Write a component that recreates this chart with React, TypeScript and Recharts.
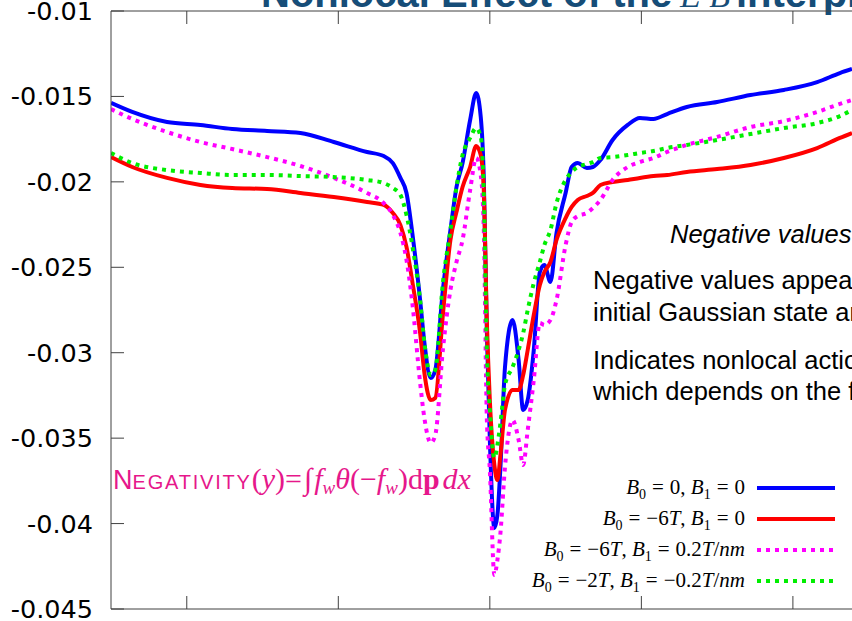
import { Customized, Legend, Line, LineChart, ReferenceLine, XAxis, YAxis } from 'recharts';

// sample positions along the horizontal axis
const X_POS = [
	-5.0, -3.6, -1.3, 0.9, 3.0, 5.3, 7.5, 9.7, 11.9, 13.0,
	13.6, 14.1, 14.5, 14.9, 15.4, 15.7, 16.1, 16.4, 16.9, 17.4,
	17.8, 18.2, 18.7, 19.1, 19.4, 19.6, 19.8, 20.0, 20.3, 20.5,
	20.7, 21.0, 21.5, 21.9, 22.2, 22.5, 22.9, 23.3, 23.6, 24.0,
	24.4, 25.0, 25.4, 25.8, 26.4, 26.8, 27.3, 28.1, 29.1, 29.9,
	30.8, 31.7, 33.0, 35.0, 37.2, 39.4, 41.6, 43.1, 43.9,
];

// B0 = 0, B1 = 0
const NEG_B0 = [
	-0.01538, -0.01591, -0.0165, -0.01667, -0.01691, -0.01702, -0.01714, -0.01767, -0.01825, -0.01849,
	-0.0189, -0.01977, -0.02065, -0.02311, -0.02692, -0.02955, -0.03148, -0.03101, -0.02633, -0.02282,
	-0.0203, -0.0189, -0.01638, -0.0148, -0.0162, -0.01972, -0.02867, -0.03511, -0.04026, -0.0395,
	-0.03669, -0.03084, -0.02809, -0.03043, -0.03335, -0.03277, -0.02984, -0.02528, -0.02487, -0.02586,
	-0.02299, -0.02065, -0.01913, -0.0189, -0.01919, -0.01913, -0.01872, -0.01755, -0.01667, -0.01626,
	-0.01632, -0.01603, -0.01562, -0.01533, -0.01492, -0.01462, -0.01416, -0.01363, -0.01339,
];

// B0 = -6T, B1 = 0
const NEG_B6 = [
	-0.01855, -0.01913, -0.01977, -0.02018, -0.02036, -0.02042, -0.02065, -0.02089, -0.02118, -0.02135,
	-0.02182, -0.02253, -0.02381, -0.02592, -0.02885, -0.03131, -0.03277, -0.03265, -0.02779, -0.0234,
	-0.02176, -0.0203, -0.01913, -0.0179, -0.01843, -0.02048, -0.02809, -0.03277, -0.03657, -0.03745,
	-0.03599, -0.03335, -0.03218, -0.03218, -0.03131, -0.02984, -0.02779, -0.02604, -0.02528, -0.02469,
	-0.0234, -0.02212, -0.02147, -0.02106, -0.02083, -0.02065, -0.02018, -0.02001, -0.01989, -0.01977,
	-0.01966, -0.0196, -0.01942, -0.01925, -0.01901, -0.0186, -0.01802, -0.01743, -0.01714,
];

// B0 = -6T, B1 = 0.2T/nm
const NEG_B6_G = [
	-0.01574, -0.01632, -0.01708, -0.01767, -0.01808, -0.01855, -0.01907, -0.01977, -0.02065, -0.02124,
	-0.02194, -0.02299, -0.02457, -0.02721, -0.03177, -0.03394, -0.03528, -0.03482, -0.02984, -0.02633,
	-0.02469, -0.0234, -0.02048, -0.0186, -0.0196, -0.02282, -0.03376, -0.03687, -0.04301, -0.04213,
	-0.04055, -0.03669, -0.03394, -0.03511, -0.03657, -0.03452, -0.0316, -0.02826, -0.02838, -0.02809,
	-0.02692, -0.0237, -0.02235, -0.022, -0.02182, -0.02153, -0.02106, -0.01989, -0.01913, -0.01884,
	-0.0186, -0.01825, -0.01784, -0.01737, -0.01679, -0.01644, -0.01591, -0.01544, -0.01521,
];

// B0 = -2T, B1 = -0.2T/nm
const NEG_B2_G = [
	-0.01831, -0.0189, -0.01931, -0.01948, -0.0196, -0.0196, -0.01966, -0.01972, -0.01989, -0.02007,
	-0.02036, -0.02077, -0.02194, -0.02381, -0.02692, -0.02955, -0.03131, -0.03101, -0.02592, -0.02282,
	-0.0203, -0.01843, -0.01743, -0.01685, -0.01737, -0.02065, -0.02984, -0.03335, -0.03616, -0.0354,
	-0.03411, -0.03189, -0.03084, -0.02984, -0.02885, -0.0275, -0.02592, -0.02469, -0.0237, -0.02282,
	-0.02124, -0.01989, -0.01942, -0.01913, -0.01896, -0.01884, -0.0186, -0.01855, -0.01843, -0.01831,
	-0.01819, -0.01802, -0.01784, -0.01755, -0.0172, -0.01685, -0.01656, -0.01615, -0.01579,
];

const Y_TICKS = [-0.045, -0.04, -0.035, -0.03, -0.025, -0.02, -0.015, -0.01];
const X_TICKS = [0, 10, 20, 30, 40];

const B0_LABELS = ['0', '−6T', '−6T', '−2T'];
const B1_LABELS = ['0', '0', '0.2T/nm', '−0.2T/nm'];

const SERIES = [
	{ key: 'b0', color: '#0000ff', dash: undefined },
	{ key: 'b6', color: '#ff0000', dash: undefined },
	{ key: 'b6g', color: '#ff00ff', dash: '4 5' },
	{ key: 'b2g', color: '#00ee00', dash: '4 5' },
];

const data = X_POS.map((x, i) => ({
	x,
	b0: NEG_B0[i],
	b6: NEG_B6[i],
	b6g: NEG_B6_G[i],
	b2g: NEG_B2_G[i],
}));

const PLOT_LEFT = 111;
const PLOT_TOP = 11;
const PLOT_BOTTOM = 609;
const AXIS = '#404040';
const PINK = '#e6178b';
const TITLE = '#164d78';

// italic letters, upright numbers, like the math in the legend
const mathText = (s: string) =>
	s.split(/([A-Za-z]+)/).map((part, i) =>
		/[A-Za-z]/.test(part) ? <i key={i}>{part}</i> : <span key={i}>{part}</span>,
	);

const subStyle: React.CSSProperties = { fontSize: 14, lineHeight: 0, fontStyle: 'normal' };
const eq = <span style={{ margin: '0 6px' }}>=</span>;

const XTick = (p: any) => (
	<g>
		<line x1={p.x} x2={p.x} y1={PLOT_BOTTOM} y2={PLOT_BOTTOM - 13} stroke={AXIS} />
		<line x1={p.x} x2={p.x} y1={PLOT_TOP} y2={PLOT_TOP + 13} stroke={AXIS} />
	</g>
);

const YTick = (p: any) => (
	<g>
		<text
			x={93}
			y={p.y}
			textAnchor="end"
			dominantBaseline="central"
			fontFamily="DejaVu Sans"
			fontSize={25.5}
			fill="#000"
		>
			{String(p.payload.value)}
		</text>
		<line x1={PLOT_LEFT} x2={PLOT_LEFT + 13} y1={p.y} y2={p.y} stroke={AXIS} />
	</g>
);

const renderLegend = () => (
	<div style={{ fontFamily: '"Liberation Serif", serif', fontSize: 21, color: '#000' }}>
		{SERIES.map((s, i) => (
			<div key={s.key} style={{ display: 'flex', alignItems: 'center', height: 31 }}>
				<div style={{ width: 265, textAlign: 'right', whiteSpace: 'nowrap' }}>
					<i>B</i>
					<sub style={subStyle}>0</sub>
					{eq}
					{mathText(B0_LABELS[i])},&nbsp;<i>B</i>
					<sub style={subStyle}>1</sub>
					{eq}
					{mathText(B1_LABELS[i])}
				</div>
				<svg width={78} height={8} style={{ marginLeft: 12 }}>
					<line x1={0} x2={78} y1={4} y2={4} stroke={s.color} strokeWidth={4} strokeDasharray={s.dash} />
				</svg>
			</div>
		))}
	</div>
);

const Annotations = () => (
	<g>
		<text x={261} y={7} fontFamily="Liberation Sans" fontWeight="bold" fontSize={40} fill={TITLE}>
			Nonlocal Effect of the
		</text>
		<text x={680} y={7} fontFamily="Liberation Serif" fontStyle="italic" fontSize={34} fill={TITLE}>
			E·B
		</text>
		<text x={736} y={7} fontFamily="Liberation Sans" fontWeight="bold" fontSize={40} fill={TITLE}>
			interplay
		</text>

		<g fontFamily="Liberation Sans" fontSize={25.5} fill="#000">
			<text x={670} y={243} fontStyle="italic">
				Negative values of the Wigner function
			</text>
			<text x={593} y={289}>Negative values appear even for an</text>
			<text x={593} y={321}>initial Gaussian state and field</text>
			<text x={593} y={369}>Indicates nonlocal action of the field,</text>
			<text x={593} y={400}>which depends on the field gradient</text>
		</g>

		<text x={113} y={489} fill={PINK}>
			<tspan fontFamily="Liberation Sans" fontSize={27}>N</tspan>
			<tspan fontFamily="Liberation Sans" fontSize={20} letterSpacing={1.8}>
				EGATIVITY
			</tspan>
			<tspan fontFamily="Liberation Serif" fontSize={30}>(</tspan>
			<tspan fontFamily="Liberation Serif" fontSize={30} fontStyle="italic">y</tspan>
			<tspan fontFamily="Liberation Serif" fontSize={30}>)=</tspan>
			<tspan fontFamily="Liberation Serif" fontSize={30} dx={2}>∫</tspan>
			<tspan fontFamily="Liberation Serif" fontSize={30} fontStyle="italic" dx={2}>f</tspan>
			<tspan fontFamily="Liberation Serif" fontSize={19} fontStyle="italic" dy={5}>w</tspan>
			<tspan fontFamily="Liberation Serif" fontSize={30} fontStyle="italic" dy={-5}>θ</tspan>
			<tspan fontFamily="Liberation Serif" fontSize={30}>(−</tspan>
			<tspan fontFamily="Liberation Serif" fontSize={30} fontStyle="italic">f</tspan>
			<tspan fontFamily="Liberation Serif" fontSize={19} fontStyle="italic" dy={5}>w</tspan>
			<tspan fontFamily="Liberation Serif" fontSize={30} dy={-5}>)d</tspan>
			<tspan fontFamily="Liberation Serif" fontSize={30} fontWeight="bold">p</tspan>
			<tspan fontFamily="Liberation Serif" fontSize={30} fontStyle="italic" dx={3}>dx</tspan>
		</text>
	</g>
);

export default function App() {
	return (
		<div
			style={{
				position: 'absolute',
				left: 0,
				top: 0,
				width: 852,
				height: 621,
				overflow: 'hidden',
				background: '#fff',
			}}
		>
			<LineChart width={852} height={621} data={data} margin={{ top: PLOT_TOP, right: 0, bottom: 11, left: 0 }}>
				<XAxis
					xAxisId="b"
					dataKey="x"
					type="number"
					domain={[-5, 43.9]}
					ticks={X_TICKS}
					interval={0}
					height={1}
					tickLine={false}
					tick={XTick}
					axisLine={{ stroke: AXIS }}
					allowDataOverflow
				/>
				<YAxis
					yAxisId="l"
					type="number"
					domain={[-0.045, -0.01]}
					ticks={Y_TICKS}
					interval={0}
					width={PLOT_LEFT}
					tickLine={false}
					tick={YTick}
					axisLine={{ stroke: AXIS }}
					allowDataOverflow
				/>
				<ReferenceLine xAxisId="b" yAxisId="l" y={-0.01} stroke={AXIS} />
				{SERIES.map((s) => (
					<Line
						key={s.key}
						xAxisId="b"
						yAxisId="l"
						dataKey={s.key}
						type="monotone"
						stroke={s.color}
						strokeWidth={4}
						strokeDasharray={s.dash}
						dot={false}
						activeDot={false}
						isAnimationActive={false}
					/>
				))}
				<Legend
					layout="vertical"
					align="center"
					verticalAlign="middle"
					content={renderLegend}
					wrapperStyle={{ left: 480, top: 472, width: 360, height: 124 }}
				/>
				<Customized component={Annotations} />
			</LineChart>
		</div>
	);
}
